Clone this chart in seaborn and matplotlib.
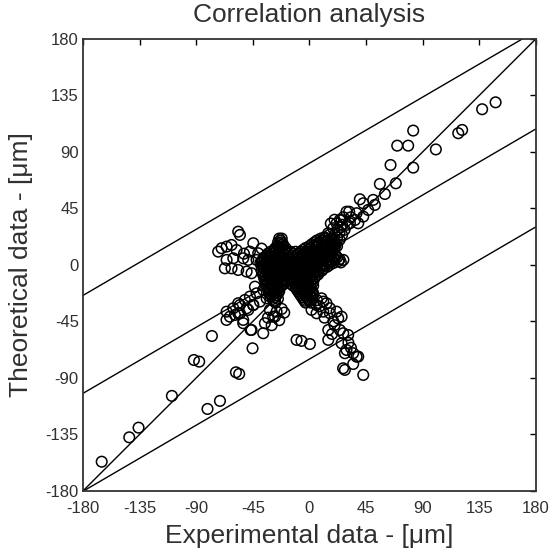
import numpy as np
import pandas as pd
import matplotlib
matplotlib.use("Agg")
import matplotlib.pyplot as plt
import seaborn as sns

# ---------------- data ----------------
title = "Correlation analysis"
x_label = "Experimental data - [\u03bcm]"
y_label = "Theoretical data - [\u03bcm]"
ticks = [-180, -135, -90, -45, 0, 45, 90, 135, 180]

# fitted line and band (slope, intercept, half-width of band)
fit_slope = 0.585
fit_intercept = 3.0
band_half = 78.0

# dense core of the cloud, rows: (y, [x...])
core_rows = [
    (21, [-24, -22, 9, 13, 17]),
    (18, [-25, -22, 4, 8, 12, 16, 20]),
    (15, [-25, -21, 0, 4, 7, 11, 15, 19, 22]),
    (12, [-28, -24, -20, -5, -1, 3, 6, 10, 14, 18]),
    (9, [-33, -29, -25, -21, -17, -13, -9, -5, -2, 2, 5, 9, 13, 16]),
    (6, [-36, -32, -28, -24, -20, -16, -12, -8, -4, 0, 3, 7, 11, 15, 19, 22]),
    (3, [-37, -33, -29, -25, -21, -17, -13, -9, -5, -1, 2, 6, 10, 14, 18, 23]),
    (0, [-37, -33, -30, -26, -22, -18, -14, -10, -6, -3, 1, 5, 9, 13, 16]),
    (-3, [-36, -32, -28, -24, -20, -16, -12, -8, -4, 0, 4, 8, 11]),
    (-6, [-36, -32, -28, -25, -21, -17, -13, -9, -5, -1, 3, 7]),
    (-9, [-35, -31, -27, -23, -19, -15, -11, -7, -3, 1, 5]),
    (-12, [-34, -30, -26, -22, -18, -14, -10, -6, -2, 2]),
    (-15, [-33, -29, -25, -20, -15, -11, -7, -3, 1]),
    (-18, [-32, -28, -24, -11, -7, -3, 1]),
    (-21, [-31, -27, -24, -9, -5, -1, 2]),
    (-24, [-30, -26, -7, -3, 1]),
    (-27, [-29, -25, -5, -1]),
    (-30, [-27, -3, 1]),
    (19.5, [-23, 6, 10, 14, 18]),
    (16.5, [-24, -21, 2, 6, 10, 14, 18, 21]),
    (13.5, [-27, -23, -19, -3, 1, 5, 9, 13, 17, 20]),
    (10.5, [-31, -27, -23, -19, -15, -11, -7, -3, 0, 4, 7, 11, 15, 18]),
    (7.5, [-34, -30, -26, -22, -18, -14, -10, -6, -2, 1, 5, 9, 13, 17, 21]),
    (4.5, [-37, -31, -27, -23, -19, -15, -11, -7, -3, 0, 4, 8, 12, 16, 20, 24]),
    (1.5, [-39, -35, -31, -27, -23, -19, -15, -11, -7, -4, -1, 3, 7, 11, 15, 19]),
    (-1.5, [-38, -34, -30, -26, -22, -18, -14, -10, -6, -2, 2, 6, 10, 14]),
    (-4.5, [-38, -34, -30, -26, -22, -18, -14, -10, -6, -2, 2, 6, 10]),
    (-7.5, [-37, -33, -29, -25, -21, -17, -13, -9, -5, -1, 3, 7]),
    (-10.5, [-36, -32, -28, -24, -20, -16, -12, -8, -4, 0, 4]),
    (-13.5, [-35, -31, -27, -23, -18, -13, -9, -5, -1, 3]),
    (-16.5, [-34, -30, -26, -22, -13, -9, -5, -1, 3]),
    (-19.5, [-33, -29, -26, -10, -7, -3, 0]),
    (-22.5, [-32, -28, -25, -8, -4, 0, 3]),
    (-25.5, [-31, -27, -6, -2, 2]),
    (-28.5, [-28, -4, 0]),
]

upper_right = [
    (137.3, 124.0), (148.0, 129.5), (121.4, 107.5), (118.3, 104.9), (82.5, 107.0),
    (69.8, 95.0), (78.5, 95.0), (100.5, 92.0), (64.5, 79.6), (82.5, 77.5),
    (68.7, 65.0), (56.0, 64.5), (60.0, 56.5), (40.1, 52.3), (50.7, 51.8),
    (52.0, 47.8), (31.6, 42.4), (46.7, 43.8), (42.8, 38.5), (24.2, 35.8),
    (36.2, 35.8), (38.8, 33.2), (29.5, 42.4), (25.6, 35.8), (21.6, 33.2),
    (18.9, 29.2), (14.9, 25.2), (25.0, 30.0), (30.0, 32.0), (33.0, 38.0),
    (27.0, 38.0), (20.0, 36.0), (17.0, 33.0), (32.2, 33.2), (37.5, 41.2),
    (42.8, 49.1), (27.0, 4.0), (25.0, 2.0), (24.0, 26.0), (28.0, 28.0),
    (20.0, 24.0), (22.0, 22.0), (18.0, 20.0), (24.0, 20.0), (26.0, 24.0),
    (22.0, 28.0), (16.0, 24.0), (12.0, 22.0), (26.0, 32.0),
]

upper_left = [
    (-56.6, 26.5), (-55.2, 23.9), (-44.6, 17.3), (-72.5, 10.6), (-69.8, 13.3),
    (-65.8, 14.6), (-61.9, 15.9), (-57.9, 11.9), (-52.6, 5.3), (-60.5, 5.3),
    (-65.8, 4.0), (-67.2, -2.7), (-61.9, -2.7), (-56.6, -4.0), (-49.9, -5.3),
    (-46.0, -6.6), (-42.0, 4.0), (-38.0, 2.7), (-34.0, 1.3), (-31.4, 6.6),
    (-28.8, 4.0), (-48.6, 4.0), (-47.3, 10.6), (-40.7, 9.3), (-52.0, 9.0),
    (-38.0, 13.0),
]

lower_left = [
    (-165.1, -156.7), (-143.2, -137.3), (-135.8, -129.6), (-109.3, -104.3),
    (-81.0, -114.7), (-71.1, -108.3), (-91.8, -75.7), (-87.6, -77.0),
    (-77.5, -56.6), (-58.4, -85.5), (-55.8, -86.8), (-65.9, -43.8),
    (-45.2, -66.4), (-46.7, -51.8), (-52.6, -46.4), (-59.2, -39.8),
    (-55.2, -38.5), (-49.9, -34.5), (-44.7, -31.9), (-65.8, -37.2),
    (-60.5, -34.5), (-55.2, -31.9), (-51.3, -27.9), (-47.3, -25.2),
    (-42.0, -22.6), (-63.2, -41.2), (-56.6, -38.5), (-48.6, -35.8),
    (-44.6, -31.9), (-39.3, -29.2), (-34.0, -26.6), (-30.1, -23.9),
    (-36.7, -19.9), (-43.3, -17.3), (-36.7, -54.4), (-35.4, -46.4),
    (-46.0, -51.8), (-52.6, -43.8), (-28.8, -41.2), (-31.4, -35.8),
    (-27.4, -41.2), (-26.1, -37.2), (-22.0, -35.0), (-20.0, -38.0),
    (-24.0, -44.0), (-30.0, -48.0), (-33.0, -42.0), (-56.6, -30.5),
]

lower_right = [
    (-10.2, -59.7), (-6.3, -60.5), (0.4, -63.0), (15.0, -59.7),
    (26.8, -82.3), (34.8, -78.9), (42.8, -87.6), (37.5, -73.1),
    (29.5, -67.7), (28.2, -70.3), (30.8, -55.8), (26.9, -54.4),
    (24.2, -51.8), (22.9, -42.5), (16.3, -38.5), (11.0, -29.2),
    (5.6, -31.9), (1.7, -35.8), (15.0, -51.8), (9.7, -26.6),
    (13.6, -30.5), (16.3, -34.5), (21.6, -37.2), (11.0, -37.2),
    (5.7, -38.5), (25.6, -41.2), (25.6, -62.4), (34.8, -70.3),
    (38.8, -73.0), (28.2, -83.6), (19.0, -45.0), (20.0, -48.0),
    (8.0, -33.0), (3.0, -24.0), (6.0, -28.0), (12.0, -42.0),
    (18.0, -55.0), (31.0, -62.0), (33.0, -66.0),
]

# ---------------- assemble ----------------
pts = []
for yv, xs in core_rows:
    pts += [(xv, yv) for xv in xs]
pts += upper_right + upper_left + lower_left + lower_right
df = pd.DataFrame(pts, columns=["exp", "theo"])

sns.set_style("white")
plt.rcParams["font.family"] = ["Liberation Sans", "DejaVu Sans"]
text_col = "#303030"

fig = plt.figure(figsize=(5.53, 5.56), dpi=100)
ax = fig.add_axes([0.150, 0.117, 0.819, 0.813])

sns.scatterplot(data=df, x="exp", y="theo", ax=ax, marker="o",
                facecolors="none", edgecolor="black", s=58, linewidth=1.1,
                legend=False, zorder=3)
for c in ax.collections:
    c.set_facecolor("none")

# identity line, fit and band
ax.axline((0, 0), slope=1.0, color="black", lw=1.0, zorder=2)
for off in (-band_half, 0.0, band_half):
    ax.axline((0, fit_intercept + off), slope=fit_slope, color="black", lw=1.0, zorder=2)

ax.set_xlim(-180, 180)
ax.set_ylim(-180, 180)
ax.set_xticks(ticks)
ax.set_yticks(ticks)
ax.set_xticklabels([str(t) for t in ticks])
ax.set_yticklabels([str(t) for t in ticks])
ax.tick_params(direction="in", length=4, width=1.0, top=True, right=True,
               labelsize=12, colors="black", labelcolor=text_col)
ax.tick_params(axis="x", pad=7)
ax.tick_params(axis="y", pad=3)
for s in ax.spines.values():
    s.set_color("#333333")
    s.set_linewidth(1.3)

ax.set_title(title, fontsize=19, color=text_col, pad=12)
ax.set_xlabel(x_label, fontsize=19, color=text_col, labelpad=6)
ax.set_ylabel(y_label, fontsize=19, color=text_col, labelpad=9)

fig.savefig("out.png", dpi=100)
